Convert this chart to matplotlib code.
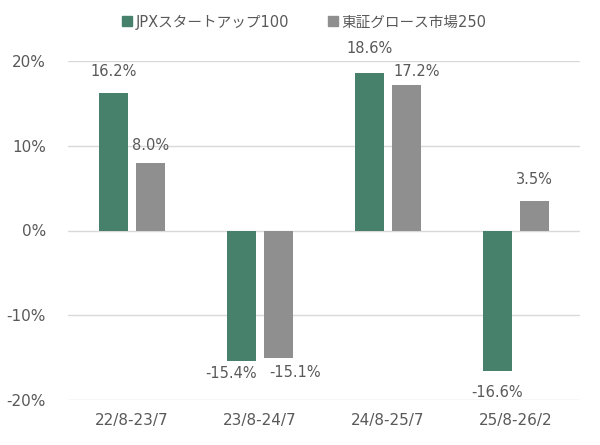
import matplotlib
matplotlib.use("Agg")
import matplotlib.pyplot as plt
import numpy as np
from matplotlib.lines import Line2D

plt.rcParams['font.family'] = ['DejaVu Sans', 'Noto Sans CJK JP']

categories = ["22/8-23/7", "23/8-24/7", "24/8-25/7", "25/8-26/2"]
series_names = ["JPXスタートアップ100", "東証グロース市場250"]
jpx = [16.2, -15.4, 18.6, -16.6]
growth = [8.0, -15.1, 17.2, 3.5]
yticks = [-20, -10, 0, 10, 20]

# label offsets (pixels) relative to bar end, per series
jpx_off = [(0, 22), (-10, -12), (0, 24), (0, -21)]
growth_off = [(0, 17), (17, -14), (10, 13), (0, 21)]

green = "#47806B"
gray = "#8F8F8F"
txt = "#595959"

fig = plt.figure(figsize=(6.0, 4.45), dpi=100)
ax = fig.add_axes([68/600, 1-400/445, 512/600, 339/445])

x = np.arange(len(categories))
w = 0.225
off = 0.145
b1 = ax.bar(x - off, jpx, w, color=green, zorder=3)
b2 = ax.bar(x + off, growth, w, color=gray, zorder=3)

for bars, vals, offs in ((b1, jpx, jpx_off), (b2, growth, growth_off)):
    for r, v, (dx, dy) in zip(bars, vals, offs):
        cx = r.get_x() + r.get_width()/2
        ax.annotate(f"{v:.1f}%", (cx, v), xytext=(dx, dy), textcoords="offset pixels",
                    ha="center", va="center", fontsize=10.5, color=txt,
                    fontfamily="DejaVu Sans")

ax.set_xlim(-0.5, len(categories) - 0.5)
ax.set_ylim(-20, 20)
ax.set_yticks(yticks)
ax.set_yticklabels([f"{t}%" for t in yticks], fontfamily="DejaVu Sans")
ax.set_xticks(x)
ax.set_xticklabels(categories, fontfamily="DejaVu Sans")
ax.tick_params(axis='both', length=0, labelsize=11, colors=txt)
ax.tick_params(axis='y', pad=16)
ax.tick_params(axis='x', pad=9)
ax.grid(axis='y', color="#D9D9D9", linewidth=1, zorder=0)
for s in ax.spines.values():
    s.set_visible(False)

handles = [Line2D([], [], marker='s', linestyle='none', markersize=7, color=green),
           Line2D([], [], marker='s', linestyle='none', markersize=7, color=gray)]
fig.legend(handles, series_names, loc='center', bbox_to_anchor=(0.505, 1-22/445), ncol=2,
           frameon=False, labelcolor=txt, handletextpad=0.1, columnspacing=2.5,
           handlelength=1.0, prop={'family': ['DejaVu Sans', 'Noto Sans CJK JP'], 'size': 10.5})

fig.savefig("out.png", dpi=100)
